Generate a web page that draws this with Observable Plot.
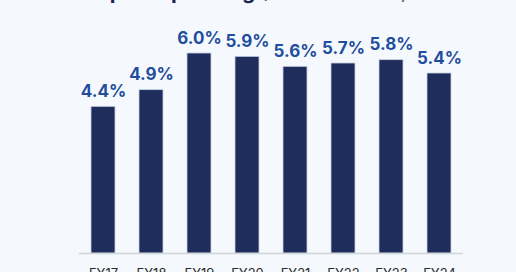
<!DOCTYPE html>
<html>
<head>
<meta charset="utf-8">
<script src="https://cdn.jsdelivr.net/npm/d3@7"></script>
<script src="https://cdn.jsdelivr.net/npm/@observablehq/plot@0.6"></script>
<style>
  html, body { margin: 0; padding: 0; background: #f5f9fd; }
  #wrap { position: relative; width: 516px; height: 272px; overflow: hidden; background: #f5f9fd; }
  #title { position: absolute; left: 82px; top: -20px; font-family: Inter, sans-serif; font-size: 21px; font-weight: 700; color: #1a2550; white-space: nowrap; line-height: 24px; }
  #title span { font-weight: 400; color: #5a6a90; }
  #chart { position: absolute; left: 0; top: 0; }
</style>
</head>
<body>
<div id="wrap">
  <div id="title">Capital spending <span>(% of revenue)</span></div>
  <div id="chart"></div>
</div>
<script>
const years = ["FY17", "FY18", "FY19", "FY20", "FY21", "FY22", "FY23", "FY24"];
const values = [4.4, 4.9, 6.0, 5.9, 5.6, 5.7, 5.8, 5.4];
const labels = ["4.4%", "4.9%", "6.0%", "5.9%", "5.6%", "5.7%", "5.8%", "5.4%"];

const data = years.map((y, i) => ({year: y, value: values[i], label: labels[i]}));

const chart = Plot.plot({
  width: 516,
  height: 272,
  marginLeft: 79,
  marginRight: 53,
  marginTop: 53,
  marginBottom: 19,
  style: {background: "transparent", fontFamily: "Inter, sans-serif"},
  x: {domain: years, paddingInner: 0.5, paddingOuter: 0.25, label: null, tickSize: 0, tickPadding: 15},
  y: {domain: [0, 6], axis: null},
  marks: [
    Plot.barY(data, {x: "year", y: "value", fill: "#1e2d5c", stroke: "#c9d2e4", strokeWidth: 0.8}),
    Plot.ruleY([0], {stroke: "#cfd4db", strokeWidth: 1.5}),
    Plot.text(data, {x: "year", y: "value", text: "label", dy: -10, lineAnchor: "bottom", fill: "#1f4e9e", fontSize: 17, fontWeight: 700}),
    Plot.axisX({tickSize: 0, tickPadding: 15, fontSize: 13, fill: "#2a2a2a", fontFamily: "Inter, sans-serif"})
  ]
});
document.getElementById("chart").appendChild(chart);
</script>
</body>
</html>
